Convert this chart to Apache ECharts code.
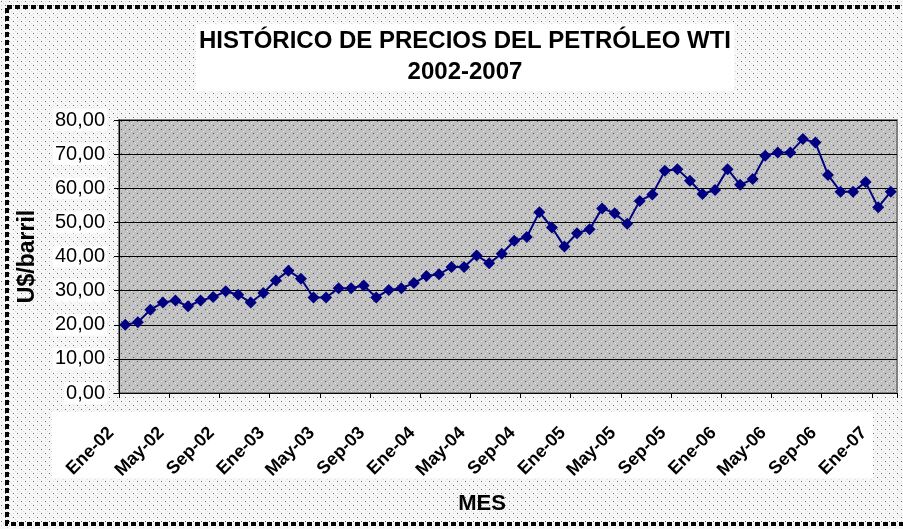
<!DOCTYPE html>
<html>
<head>
<meta charset="utf-8">
<script src="https://cdn.jsdelivr.net/npm/echarts@6/dist/echarts.min.js"></script>
<style>
html,body{margin:0;padding:0;background:#fff;}
#chart{width:903px;height:529px;}
</style>
</head>
<body>
<div id="chart"></div>
<script>
const months = ['Ene','Feb','Mar','Abr','May','Jun','Jul','Ago','Sep','Oct','Nov','Dic'];
const years = ['02','03','04','05','06','07'];
const categories = [];
years.forEach(y => months.forEach(m => categories.push(m + '-' + y)));
categories.length = 62; // Ene-02 .. Feb-07

const prices = [
  20.0, 20.7, 24.4, 26.5, 27.1, 25.4, 27.1, 28.1, 29.8, 28.8, 26.5, 29.3,
  33.0, 35.8, 33.5, 28.0, 28.0, 30.7, 30.7, 31.5, 28.0, 30.2, 30.7, 32.2,
  34.3, 34.8, 36.9, 36.9, 40.3, 38.0, 40.8, 44.6, 45.7, 53.0, 48.5, 42.9,
  46.8, 48.0, 54.1, 52.7, 49.6, 56.3, 58.2, 65.1, 65.6, 62.2, 58.3, 59.5,
  65.6, 61.0, 62.7, 69.5, 70.5, 70.5, 74.4, 73.4, 63.9, 59.0, 59.0, 61.8,
  54.4, 59.0
];

const titleText = 'HISTÓRICO DE PRECIOS DEL PETRÓLEO WTI';
const subTitleText = '2002-2007';
const yAxisName = 'U$/barril';
const xAxisName = 'MES';

function makePattern(bg, dark, light) {
  const c = document.createElement('canvas');
  c.width = 8; c.height = 8;
  const ctx = c.getContext('2d');
  ctx.fillStyle = bg; ctx.fillRect(0, 0, 8, 8);
  ctx.fillStyle = dark;
  ctx.fillRect(1, 1, 1, 1); ctx.fillRect(5, 5, 1, 1);
  ctx.fillStyle = light;
  ctx.fillRect(5, 1, 1, 1); ctx.fillRect(1, 5, 1, 1);
  ctx.fillRect(3, 3, 1, 1); ctx.fillRect(7, 7, 1, 1);
  return c;
}

const FONT = "'Liberation Sans', Arial, sans-serif";
const chart = echarts.init(document.getElementById('chart'), null, {renderer: 'canvas'});

chart.setOption({
  backgroundColor: {image: makePattern('#f7f7f7', '#6a6a6a', '#d8d8d8'), repeat: 'repeat'},
  animation: false,
  title: [{
    text: titleText,
    subtext: subTitleText,
    left: 462,
    top: 24,
    textAlign: 'center',
    itemGap: 3,
    padding: [3, 3, 5, 3],
    backgroundColor: '#ffffff',
    textStyle: {fontFamily: FONT, fontSize: 24, lineHeight: 28, fontWeight: 'bold', color: '#000'},
    subtextStyle: {fontFamily: FONT, fontSize: 24, lineHeight: 28, fontWeight: 'bold', color: '#000'}
  }, {
    text: xAxisName,
    left: 482,
    top: 493,
    textAlign: 'center',
    padding: 0,
    textStyle: {fontFamily: FONT, fontSize: 22, fontWeight: 'bold', color: '#000'}
  }],
  graphic: [{
    type: 'rect',
    z: -10,
    silent: true,
    shape: {x: 52, y: 412, width: 821, height: 66},
    style: {fill: '#ffffff'}
  }, {
    type: 'rect',
    z: 100,
    silent: true,
    shape: {x: 7, y: 7, width: 910, height: 517},
    style: {fill: null, stroke: '#000', lineWidth: 4, lineDash: [5, 3]}
  }],
  grid: {
    left: 119, top: 120, right: 6, bottom: 136,
    show: true,
    backgroundColor: {image: makePattern('#c0c0c0', '#555555', '#e6e6e6'), repeat: 'repeat'},
    borderColor: '#808080',
    borderWidth: 2
  },
  xAxis: {
    type: 'category',
    data: categories,
    boundaryGap: true,
    z: 5,
    axisLine: {lineStyle: {color: '#000', width: 1}},
    axisTick: {show: true, interval: 3, length: 5, lineStyle: {color: '#000'}},
    axisLabel: {
      interval: 3, rotate: 45, margin: 23,
      padding: [0, 20, 0, 0],
      fontFamily: FONT, fontSize: 18, fontWeight: 'bold', color: '#000'
    },
    splitLine: {show: false}
  },
  yAxis: {
    type: 'value',
    min: 0, max: 80, interval: 10,
    name: yAxisName,
    nameLocation: 'middle',
    nameRotate: 90,
    nameGap: 80,
    nameTextStyle: {fontFamily: FONT, fontSize: 23, fontWeight: 'bold', color: '#000'},
    axisLine: {show: true, lineStyle: {color: '#000', width: 1}},
    axisTick: {show: true, length: 5, lineStyle: {color: '#000'}},
    axisLabel: {
      margin: 12,
      fontFamily: FONT, fontSize: 20, color: '#000',
      backgroundColor: '#ffffff', padding: [1, 2, 1, 2],
      formatter: v => v.toFixed(2).replace('.', ',')
    },
    splitLine: {show: true, lineStyle: {color: '#000', width: 1}}
  },
  series: [{
    type: 'line',
    data: prices,
    z: 10,
    showAllSymbol: true,
    symbol: 'diamond',
    symbolSize: 12,
    lineStyle: {color: '#000080', width: 2},
    itemStyle: {color: '#000080'}
  }]
});
</script>
</body>
</html>
